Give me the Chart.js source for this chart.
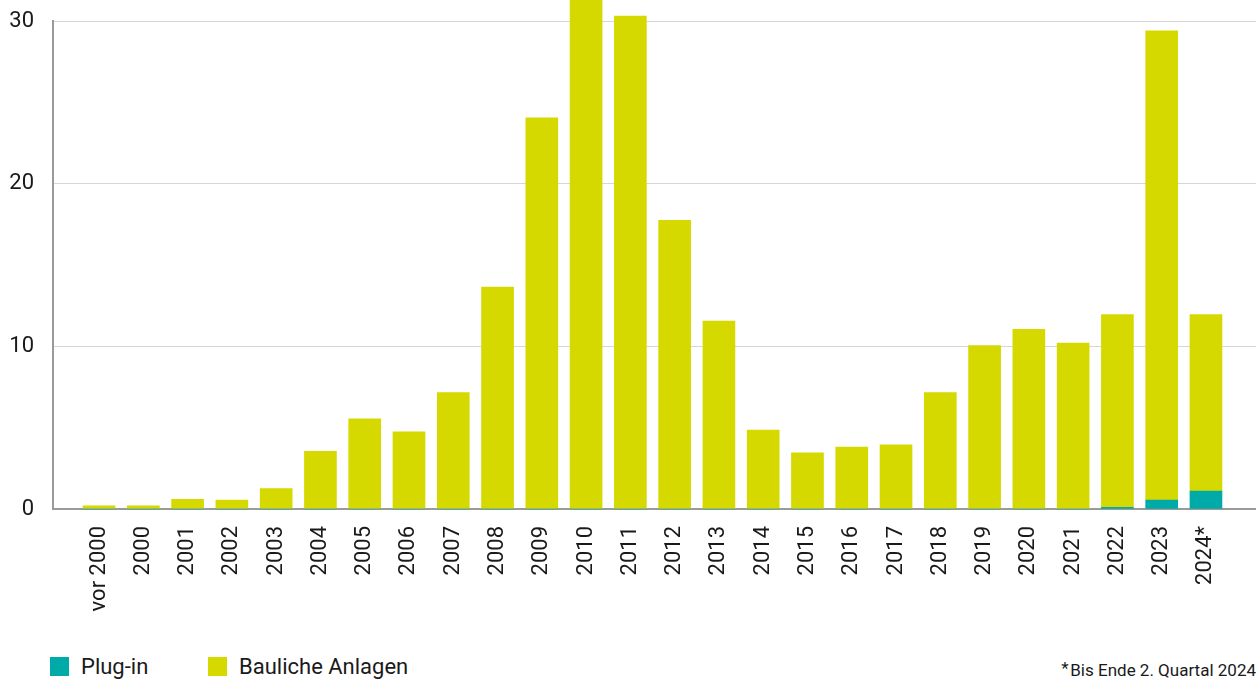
<!DOCTYPE html>
<html>
<head>
<meta charset="utf-8">
<script src="https://cdn.jsdelivr.net/npm/chart.js@4/dist/chart.umd.min.js"></script>
<style>
    html, body { margin: 0; padding: 0; background: #fff; }
    body { width: 1256px; height: 680px; position: relative; overflow: hidden; font-family: Roboto, sans-serif; color: #1a1a1a; }
    #chart-wrap { position: absolute; left: 0; top: 0; width: 1256px; height: 640px; }
    .legend-item { position: absolute; top: 654px; height: 26px; line-height: 26px; font-size: 22px; white-space: nowrap; }
    .legend-box { position: absolute; left: 0; top: 3px; width: 19px; height: 19px; }
    .legend-item span.txt { position: absolute; left: 31px; top: 0; }
    #footnote { position: absolute; right: 0; top: 656px; font-size: 17px; line-height: 24px; white-space: nowrap; }
</style>
</head>
<body>
<div id="chart-wrap"><canvas id="chart"></canvas></div>
<div class="legend-item" style="left:50px"><div class="legend-box" style="background:#00aaa8"></div><span class="txt">Plug-in</span></div>
<div class="legend-item" style="left:208px"><div class="legend-box" style="background:#d5d900"></div><span class="txt">Bauliche Anlagen</span></div>
<div id="footnote"><sup style="font-size:17px;vertical-align:2px">*</sup>&#8202;Bis Ende 2. Quartal 2024</div>
<script>
const categories = ["vor 2000", "2000", "2001", "2002", "2003", "2004", "2005", "2006", "2007", "2008",
    "2009", "2010", "2011", "2012", "2013", "2014", "2015", "2016", "2017", "2018",
    "2019", "2020", "2021", "2022", "2023", "2024*"]
const plugIn = [0, 0, 0, 0, 0, 0, 0, 0, 0, 0,
    0, 0, 0, 0, 0, 0, 0, 0, 0, 0,
    0, 0, 0, 0.1, 0.55, 1.1]
const baulicheAnlagen = [0.2, 0.2, 0.6, 0.55, 1.25, 3.55, 5.55, 4.75, 7.15, 13.65,
    24.05, 32, 30.3, 17.75, 11.55, 4.85, 3.45, 3.8, 3.95, 7.15,
    10.05, 11.05, 10.2, 11.85, 28.85, 10.85]
const yTicks = [0, 10, 20, 30]

const COLOR_PLUG = "#00aaa8"
const COLOR_BAU = "#d5d900"
const AXIS_GRAY = "#9a9a98"
const FONT = { family: "Roboto", size: 22 }

const toPoints = (values) => values.map((v, i) => ({ x: i, y: v }))

const ctx = document.getElementById("chart").getContext("2d")
new Chart(ctx, {
    type: "bar",
    data: {
        datasets: [
            {
                label: "Plug-in",
                data: toPoints(plugIn),
                backgroundColor: COLOR_PLUG,
                barThickness: 32,
                clip: false,
            },
            {
                label: "Bauliche Anlagen",
                data: toPoints(baulicheAnlagen),
                backgroundColor: COLOR_BAU,
                barThickness: 32,
                clip: false,
            },
        ],
    },
    options: {
        responsive: true,
        maintainAspectRatio: false,
        animation: false,
        layout: { padding: { top: 21, right: 0, left: 0, bottom: 0 } },
        plugins: {
            legend: { display: false },
            tooltip: { enabled: false },
        },
        scales: {
            x: {
                type: "linear",
                stacked: true,
                offset: false,
                min: -1.04,
                max: 26.13,
                grid: { display: false, drawTicks: false },
                border: { display: true, color: AXIS_GRAY, width: 2 },
                afterBuildTicks: (scale) => {
                    scale.ticks = categories.map((c, i) => ({ value: i }))
                },
                afterFit: (scale) => {
                    scale.height = 131
                    scale.paddingLeft = 0
                    scale.paddingRight = 0
                },
                ticks: {
                    autoSkip: false,
                    minRotation: 90,
                    maxRotation: 90,
                    padding: 17,
                    color: "#1a1a1a",
                    font: FONT,
                    callback: (value) => categories[value],
                },
            },
            y: {
                stacked: true,
                min: 0,
                max: 30,
                grid: { color: "#d6d6d6", lineWidth: 1, drawTicks: false },
                border: { display: true, color: AXIS_GRAY, width: 2 },
                afterBuildTicks: (scale) => {
                    scale.ticks = yTicks.map((v) => ({ value: v }))
                },
                afterFit: (scale) => {
                    scale.width = 53
                    scale.paddingTop = 0
                    scale.paddingBottom = 0
                },
                ticks: {
                    padding: 19,
                    color: "#1a1a1a",
                    font: FONT,
                },
            },
        },
    },
})
</script>
</body>
</html>
